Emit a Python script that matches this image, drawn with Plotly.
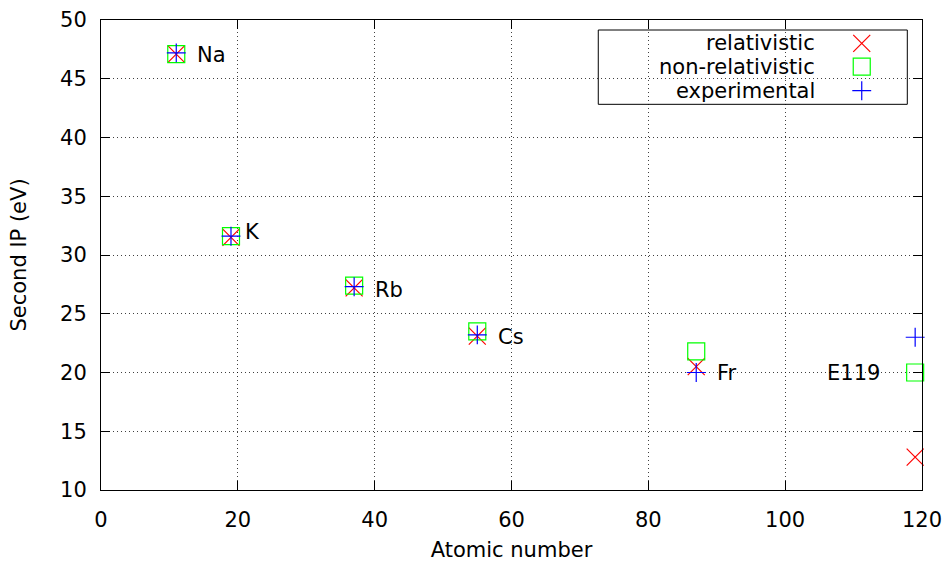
import plotly.graph_objects as go

# ---- data ----
elements = ["Na", "K", "Rb", "Cs", "Fr", "E119"]
atomic_number = [11, 19, 37, 55, 87, 119]
relativistic = [47.1, 31.5, 27.2, 23.1, 20.5, 12.8]
non_relativistic = [47.1, 31.6, 27.4, 23.5, 21.8, 20.0]
experimental = [47.2, 31.6, 27.3, 23.2, 20.0, 23.0]
label_x = [13.8, 20.8, 39.8, 57.8, 89.8, 105.8]
label_y = [47.0, 32.0, 27.0, 23.0, 20.0, 20.0]
series_names = ["relativistic", "non-relativistic", "experimental"]
x_ticks = [0, 20, 40, 60, 80, 100, 120]
y_ticks = [10, 15, 20, 25, 30, 35, 40, 45, 50]

FONT = "DejaVu Sans"
FS = 21
colors = ["#ff0000", "#00ff00", "#0000ff"]
symbols = ["x-thin-open", "square-open", "cross-thin-open"]
sizes = [17, 17, 13.5]

fig = go.Figure()
for name, vals, c, s, sz in zip(series_names, [relativistic, non_relativistic, experimental],
                                colors, symbols, sizes):
    fig.add_trace(go.Scatter(
        x=atomic_number, y=vals, mode="markers", name=name, showlegend=False,
        marker=dict(symbol=s, size=sz, color=c, line=dict(color=c, width=1.2)),
        cliponaxis=False,
    ))

for el, lx, ly in zip(elements, label_x, label_y):
    fig.add_annotation(x=lx, y=ly, text=el, showarrow=False, xanchor="left",
                       yanchor="middle", font=dict(family=FONT, size=FS, color="black"))

# ---- custom legend (gnuplot style: text right-aligned, symbol on right) ----
leg_rows_y = [0.9504, 0.9006, 0.8496]
for name, c, s, sz, ly in zip(series_names, colors, symbols, sizes, leg_rows_y):
    fig.add_trace(go.Scatter(
        x=[0.9266], y=[ly], mode="markers", xaxis="x2", yaxis="y2", showlegend=False,
        marker=dict(symbol=s, size=sz, color=c, line=dict(color=c, width=1.2)),
        hoverinfo="skip",
    ))
    fig.add_annotation(x=0.8727, y=ly, xref="paper", yref="paper", text=name,
                       showarrow=False, xanchor="right", yanchor="middle",
                       font=dict(family=FONT, size=FS, color="black"))
fig.add_shape(type="rect", xref="paper", yref="paper", x0=0.6057, x1=0.9821,
              y0=0.8206, y1=0.9787, line=dict(color="black", width=1),
              fillcolor="white", layer="below")

axis_common = dict(
    showline=True, linecolor="black", linewidth=1, mirror="ticks",
    ticks="inside", ticklen=9, tickcolor="black", tickwidth=1,
    showgrid=True, gridcolor="rgba(0,0,0,0.75)", gridwidth=1, griddash="1px,3px",
    zeroline=False, tickfont=dict(family=FONT, size=FS, color="black"),
    automargin=False,
)

fig.update_layout(
    width=945, height=562,
    margin=dict(l=101, r=23, t=20, b=72),
    plot_bgcolor="white", paper_bgcolor="white",
    font=dict(family=FONT, size=FS, color="black"),
    showlegend=False,
    xaxis=dict(range=[0, 120], tickvals=x_ticks, ticklabelstandoff=11,
               title=dict(text="Atomic number", font=dict(family=FONT, size=FS), standoff=13),
               **axis_common),
    yaxis=dict(range=[10, 50], tickvals=y_ticks, ticklabelstandoff=9,
               title=dict(text="Second IP (eV)", font=dict(family=FONT, size=FS), standoff=27),
               **axis_common),
    xaxis2=dict(range=[0, 1], overlaying="x", visible=False, fixedrange=True),
    yaxis2=dict(range=[0, 1], overlaying="y", visible=False, fixedrange=True),
)

fig.write_html("out.html")
